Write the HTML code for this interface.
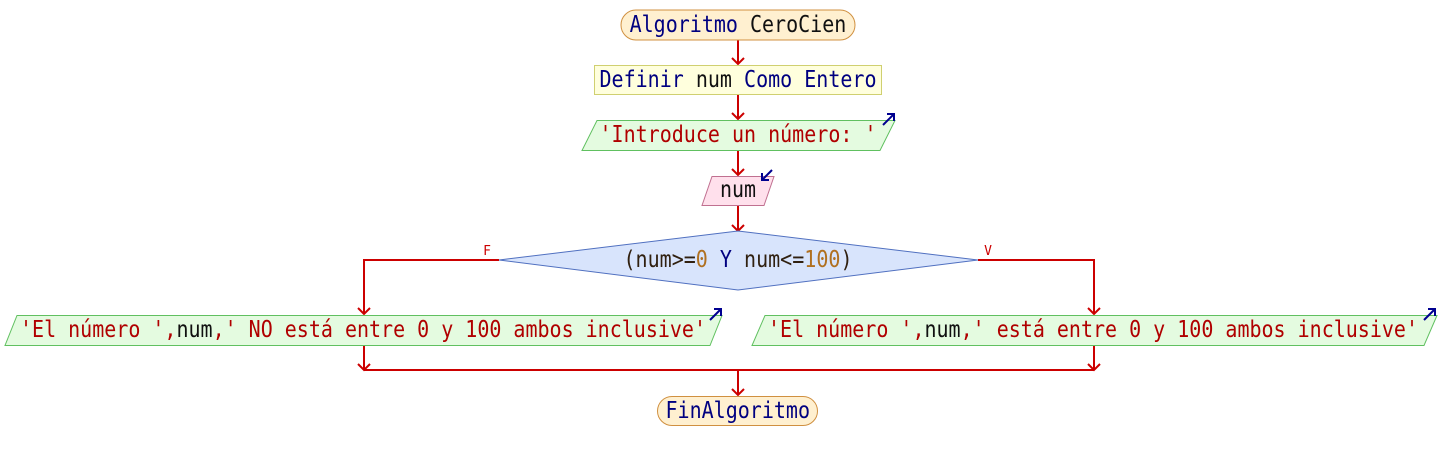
<!DOCTYPE html>
<html><head><meta charset="utf-8"><style>
html,body{margin:0;padding:0;background:#fff;}
svg{display:block;}
text{font-family:"DejaVu Sans Mono","Liberation Mono",monospace;font-size:23px;}
</style></head><body>
<svg width="1440" height="460" viewBox="0 0 1440 460" xmlns="http://www.w3.org/2000/svg">
<g stroke="#cc0000" stroke-width="2" fill="none">
<line x1="738" y1="40" x2="738" y2="64"/><path d="M732 58 L738 64 L744 58"/>
<line x1="738" y1="95" x2="738" y2="119"/><path d="M732 113 L738 119 L744 113"/>
<line x1="738" y1="150" x2="738" y2="175"/><path d="M732 169 L738 175 L744 169"/>
<line x1="738" y1="205" x2="738" y2="231"/><path d="M732 225 L738 231 L744 225"/>
<polyline points="499,260 364,260 364,314"/><path d="M358 308 L364 314 L370 308"/>
<polyline points="978,260 1094,260 1094,314"/><path d="M1088 308 L1094 314 L1100 308"/>
<line x1="364" y1="345" x2="364" y2="370"/><path d="M358 364 L364 370 L370 364"/>
<line x1="1094" y1="345" x2="1094" y2="370"/><path d="M1088 364 L1094 370 L1100 364"/>
<line x1="364" y1="370" x2="1094" y2="370"/>
<line x1="738" y1="370" x2="738" y2="395"/><path d="M732 389 L738 395 L744 389"/>
</g>
<rect x="621" y="10" width="234" height="30" rx="15" fill="#fff0d0" stroke="#d09040" stroke-width="1"/>
<text x="629.6" y="32" textLength="216.7" lengthAdjust="spacingAndGlyphs" xml:space="preserve"><tspan fill="#000080">Algoritmo</tspan> <tspan fill="#101010">CeroCien</tspan></text>
<rect x="594.5" y="65.5" width="287" height="29" fill="#ffffdd" stroke="#d0d070"/>
<text x="599.5" y="87" textLength="277" lengthAdjust="spacingAndGlyphs" xml:space="preserve"><tspan fill="#000080">Definir</tspan> <tspan fill="#101010">num</tspan> <tspan fill="#000080">Como Entero</tspan></text>
<polygon points="597,120.5 895,120.5 880,150.5 582,150.5" fill="#e4fbe0" stroke="#60c060"/>
<text x="599.5" y="142" textLength="277" lengthAdjust="spacingAndGlyphs" fill="#b00000">'Introduce un número: '</text>
<g stroke="#000090" stroke-width="2" fill="none"><line x1="883" y1="125" x2="894" y2="114"/><path d="M887 114 L894 114 L894 121"/></g>
<polygon points="712,176.5 774,176.5 764,205.5 702,205.5" fill="#ffe0ec" stroke="#c07090"/>
<text x="720" y="197" textLength="36" lengthAdjust="spacingAndGlyphs" fill="#101010">num</text>
<g stroke="#000090" stroke-width="2" fill="none"><line x1="772" y1="170" x2="762" y2="180"/><path d="M762 173 L762 180 L769 180"/></g>
<polygon points="738,231 978,260 738,290 499,260" fill="#d8e4fc" stroke="#5070c0"/>
<text x="623.5" y="267" textLength="229" lengthAdjust="spacingAndGlyphs" xml:space="preserve"><tspan fill="#302010">(num&gt;=</tspan><tspan fill="#b07020">0</tspan> <tspan fill="#000080">Y</tspan> <tspan fill="#302010">num&lt;=</tspan><tspan fill="#b07020">100</tspan><tspan fill="#302010">)</tspan></text>
<text x="487" y="255" text-anchor="middle" fill="#cc0000" style="font-size:13px">F</text>
<text x="988" y="255" text-anchor="middle" fill="#cc0000" style="font-size:13px">V</text>
<polygon points="17,315.5 722,315.5 710,345.5 5,345.5" fill="#e4fbe0" stroke="#60c060"/>
<text x="20" y="337" textLength="686" lengthAdjust="spacingAndGlyphs" xml:space="preserve"><tspan fill="#b00000">'El número ',</tspan><tspan fill="#101010">num</tspan><tspan fill="#b00000">,' NO está entre 0 y 100 ambos inclusive'</tspan></text>
<g stroke="#000090" stroke-width="2" fill="none"><line x1="710" y1="320" x2="721" y2="309"/><path d="M714 309 L721 309 L721 316"/></g>
<polygon points="765,315.5 1437,315.5 1424,345.5 752,345.5" fill="#e4fbe0" stroke="#60c060"/>
<text x="768" y="337" textLength="650" lengthAdjust="spacingAndGlyphs" xml:space="preserve"><tspan fill="#b00000">'El número ',</tspan><tspan fill="#101010">num</tspan><tspan fill="#b00000">,' está entre 0 y 100 ambos inclusive'</tspan></text>
<g stroke="#000090" stroke-width="2" fill="none"><line x1="1424" y1="320" x2="1435" y2="309"/><path d="M1428 309 L1435 309 L1435 316"/></g>
<rect x="657.5" y="396.5" width="160" height="29" rx="14.5" fill="#fff0d0" stroke="#d09040"/>
<text x="665.5" y="418" textLength="144.5" lengthAdjust="spacingAndGlyphs" fill="#000080">FinAlgoritmo</text>
</svg>
</body></html>
